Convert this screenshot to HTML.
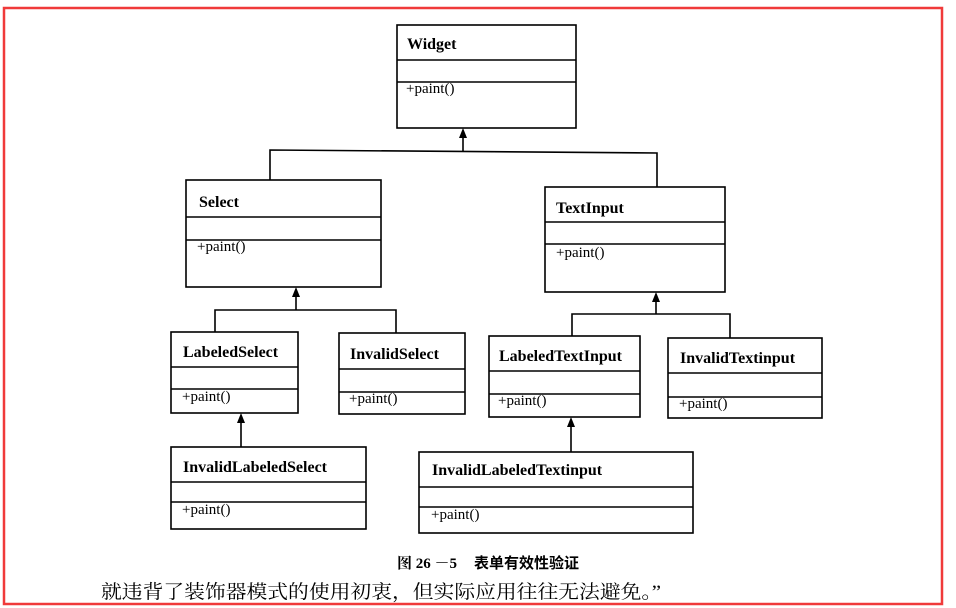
<!DOCTYPE html>
<html><head><meta charset="utf-8"><style>
html,body{margin:0;padding:0;background:#fff;}
svg{display:block;}
.n{font-family:"Liberation Serif","Noto Serif CJK SC",serif;font-weight:bold;font-size:16px;}
.m{font-family:"Liberation Serif",serif;font-size:15px;}
</style></head><body>
<svg width="956" height="608" viewBox="0 0 956 608" xmlns="http://www.w3.org/2000/svg">
<rect x="0" y="0" width="956" height="608" fill="#fff"/>
<rect x="4" y="8" width="938" height="596" fill="none" stroke="#f03a3a" stroke-width="2.5"/>
<g fill="none" stroke="#000" stroke-width="1.6">
<rect x="397" y="25" width="179" height="103"/><line x1="397" y1="60" x2="576" y2="60"/><line x1="397" y1="82" x2="576" y2="82"/>
<rect x="186" y="180" width="195" height="107"/><line x1="186" y1="217" x2="381" y2="217"/><line x1="186" y1="240" x2="381" y2="240"/>
<rect x="545" y="187" width="180" height="105"/><line x1="545" y1="222" x2="725" y2="222"/><line x1="545" y1="244" x2="725" y2="244"/>
<rect x="171" y="332" width="127" height="81"/><line x1="171" y1="367" x2="298" y2="367"/><line x1="171" y1="389" x2="298" y2="389"/>
<rect x="339" y="333" width="126" height="81"/><line x1="339" y1="369" x2="465" y2="369"/><line x1="339" y1="392" x2="465" y2="392"/>
<rect x="489" y="336" width="151" height="81"/><line x1="489" y1="371" x2="640" y2="371"/><line x1="489" y1="394" x2="640" y2="394"/>
<rect x="668" y="338" width="154" height="80"/><line x1="668" y1="373" x2="822" y2="373"/><line x1="668" y1="397" x2="822" y2="397"/>
<rect x="171" y="447" width="195" height="82"/><line x1="171" y1="482" x2="366" y2="482"/><line x1="171" y1="502" x2="366" y2="502"/>
<rect x="419" y="452" width="274" height="81"/><line x1="419" y1="487" x2="693" y2="487"/><line x1="419" y1="507" x2="693" y2="507"/>
<polyline points="270,180 270,150 657,153 657,187"/><line x1="463" y1="151" x2="463" y2="134"/>
<polyline points="215,332 215,310 396,310 396,333"/><line x1="296" y1="310" x2="296" y2="293"/>
<polyline points="572,336 572,314 730,314 730,338"/><line x1="656" y1="314" x2="656" y2="298"/>
<line x1="241" y1="447" x2="241" y2="419"/>
<line x1="571" y1="452" x2="571" y2="423"/>
</g>
<g fill="#000">
<polygon points="463,128 459,138 467,138"/>
<polygon points="296,287 292,297 300,297"/>
<polygon points="656,292 652,302 660,302"/>
<polygon points="241,413 237,423 245,423"/>
<polygon points="571,417 567,427 575,427"/>
</g>
<g fill="#000">
<text class="n" x="407" y="49">Widget</text><text class="m" x="406" y="93">+paint()</text>
<text class="n" x="199" y="207">Select</text><text class="m" x="197" y="251">+paint()</text>
<text class="n" x="556" y="213">TextInput</text><text class="m" x="556" y="257">+paint()</text>
<text class="n" x="183" y="357">LabeledSelect</text><text class="m" x="182" y="401">+paint()</text>
<text class="n" x="350" y="359">InvalidSelect</text><text class="m" x="349" y="403">+paint()</text>
<text class="n" x="499" y="361">LabeledTextInput</text><text class="m" x="498" y="405">+paint()</text>
<text class="n" x="680" y="363">InvalidTextinput</text><text class="m" x="679" y="408">+paint()</text>
<text class="n" x="183" y="472">InvalidLabeledSelect</text><text class="m" x="182" y="514">+paint()</text>
<text class="n" x="432" y="475">InvalidLabeledTextinput</text><text class="m" x="431" y="519">+paint()</text>
<text x="397" y="568" style="font-family:'Liberation Serif','Noto Serif CJK SC',serif;font-size:15px;font-weight:bold">图 26 －5 <tspan x="474" font-family="'Noto Sans CJK SC',sans-serif">表单有效性验证</tspan></text>
<text x="101" y="598" style="font-family:'Liberation Serif','Noto Serif CJK SC',serif;font-size:19px" textLength="560" lengthAdjust="spacingAndGlyphs">就违背了装饰器模式的使用初衷，但实际应用往往无法避免。”</text>
</g>
</svg>
</body></html>
